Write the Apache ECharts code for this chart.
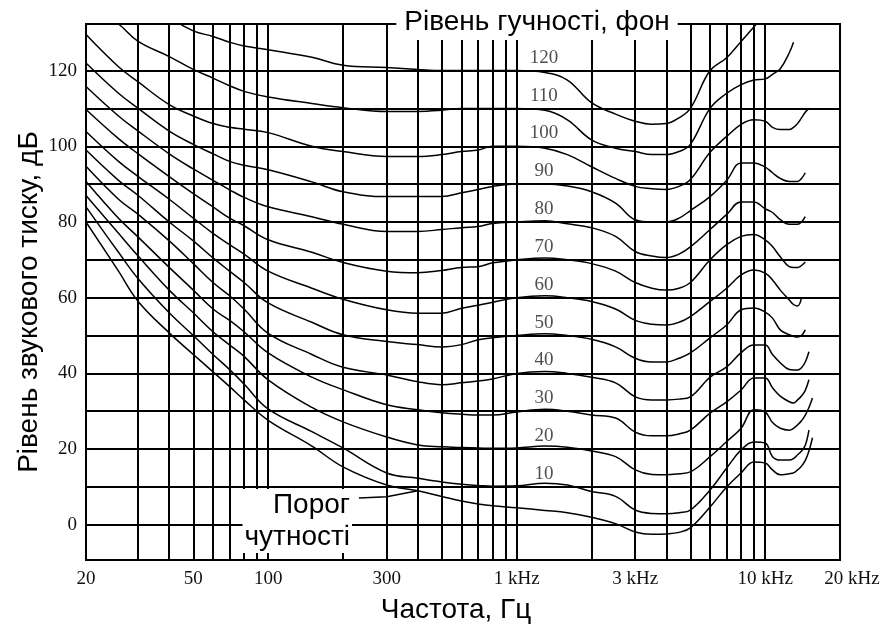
<!DOCTYPE html>
<html><head><meta charset="utf-8">
<script src="https://cdn.jsdelivr.net/npm/echarts@6/dist/echarts.min.js"></script>
<style>html,body{margin:0;padding:0;background:#fff}#c{width:886px;height:625px}</style>
</head><body><div id="c"></div>
<script>
// frequency nodes (Hz)
const freqs = [18.5, 25, 30, 40, 50, 60, 70, 80, 100, 150, 200, 300, 400, 500, 600, 700, 800, 1000, 1300, 1600, 2000, 2500, 3000, 3500, 4000, 4500, 5000, 6000, 7000, 8000, 9000, 10000, 10700, 11500, 12500, 13000, 13500, 14000, 14500, 15000, 15500];
// sound pressure level (dB) of each equal-loudness contour at the nodes above
const thr   = [80, 67, 59, 50.7, 45, 40.4, 36.5, 33, 27.6, 20.8, 15.3, 10.5, 9, 7.5, 6.3, 5.5, 5, 4.5, 3.8, 3.2, 2, 0.3, -1.9, -2.5, -2.4, -2, -0.8, 4.7, 10, 13.7, 16.6, 16.3, 14.5, 13.2, 13.5, 13.7, 14.5, 15.5, 17, 19.5, 23];
const ph10  = [84, 72, 65, 56, 50, 45, 41, 37.2, 30.6, 24.6, 20.3, 13.7, 12.3, 11.3, 10.7, 10.4, 10.2, 10.3, 11, 10.5, 8.8, 7.5, 3.9, 3, 2.9, 3.2, 3.9, 9.2, 15, 19.8, 21.9, 21.6, 18, 17.1, 17.1, 17.5, 18.5, 19.5, 21, 25, null];
const ph20  = [87, 77, 71, 62, 56, 51, 47.5, 44.5, 38.3, 31, 27.2, 23.2, 21.1, 20.6, 20.4, 20.3, 20.2, 20.3, 20.8, 20.5, 19.5, 18, 14.5, 13.3, 13.2, 13.5, 14, 18, 22, 25.5, 30.4, 29.8, 27, 25.5, 25, 25.5, 26.4, 27.5, 29, 31, 33.5];
const ph30  = [90.7, 81, 76, 68, 62, 57, 54, 51, 45.4, 39, 35.7, 31.7, 30.4, 29.6, 29.2, 29, 29, 29.8, 30.5, 30, 29, 28.2, 24.5, 23.5, 23.5, 24, 25, 29.5, 32.5, 35.6, 38.8, 38.8, 36.2, 34, 32.5, 32.2, 33, 34, 35.5, 38.3, null];
const ph40  = [94.7, 86, 82, 75, 69, 64, 60.5, 57, 50.6, 45, 41.6, 39.6, 37.8, 37, 37.5, 38, 38.5, 40, 40.5, 40, 39, 37.5, 33.8, 33, 33, 33.2, 33.8, 39, 41.7, 45.5, 47.5, 47.5, 45, 42.8, 41, 40.9, 40.9, 41.5, 43, 45.7, null];
const ph50  = [99, 91, 87, 80, 75, 70.5, 67, 64, 58.6, 53.5, 50.2, 48.4, 47.6, 47, 47.6, 48.9, 49.4, 50, 50.5, 50, 49, 47, 44, 43, 43, 44, 45.4, 49.4, 52.8, 56.8, 57.3, 56.2, 54.6, 51.5, 50.2, 49.8, 49.6, 50, 51.5, null, null];
const ph60  = [103.9, 96, 92, 86, 81, 77, 74, 71.5, 67, 62.5, 59.6, 56.8, 55.9, 55.9, 57.2, 58, 58.8, 60, 60.5, 60, 59, 57, 54, 53, 52.8, 53.5, 55, 59, 62.5, 66, 67.3, 66.5, 64.7, 62, 59.4, 58.2, 57.8, 60, null, null, null];
const ph70  = [109.7, 102, 98, 92, 87.5, 84, 81, 79, 75.3, 72, 69.3, 67, 66.6, 67.2, 68, 68.2, 69.2, 70, 70.5, 70, 69, 67, 64, 62.5, 62, 62.5, 64, 70, 74, 76.2, 76.7, 75.3, 73.5, 70.8, 68.2, 68, 68, 68.5, 69.4, null, null];
const ph80  = [115.8, 108, 104, 98, 94, 91, 88.5, 86.5, 84, 81.4, 79.4, 77.5, 77.5, 78, 78.5, 78.8, 79.6, 80, 80.3, 79.5, 78.5, 76.2, 72.2, 71, 70.6, 71.5, 73.4, 78, 82, 85.3, 85.3, 83.5, 82.5, 80.6, 79.4, 79.4, 79.4, 80, 81.4, null, null];
const ph90  = [122, 114, 110, 104, 100.5, 98, 96, 95, 93.8, 90.6, 88, 86.7, 86.7, 86.7, 87.7, 88.6, 89.4, 90, 90, 89.5, 88, 85, 80.6, 80, 80, 81, 83, 86.7, 91, 95.6, 95.6, 94.5, 93, 91.5, 90.7, 90.7, 90.7, 91.5, 93, null, null];
const ph100 = [129.5, 121, 117, 111, 108, 106, 105, 104.5, 103.6, 100, 98.6, 97.3, 97.3, 97.8, 98.6, 99, 100, 100, 99.5, 97.8, 94.6, 91.5, 89.4, 88.8, 88.6, 89.4, 91.2, 98.4, 102.6, 105.8, 107, 106.6, 105, 104.4, 104.4, 105, 106, 107.5, 109, 110, null];
const ph110 = [138, 132.3, 127.7, 123.7, 120.3, 118, 116, 114.5, 113, 111.3, 110.2, 109.2, 109.2, 109.5, 110, 110, 110, 110, 109.5, 107, 101.7, 99.5, 98.6, 97.8, 97.8, 98.6, 100.5, 110, 114, 116.3, 117.5, 117.8, 119, 120.5, 124.7, 127.5, null, null, null, null, null];
const ph120 = [null, null, null, 134, 130.5, 129, 127.5, 126.5, 125.5, 123.5, 121.4, 120.8, 120.3, 120, 120, 120, 120, 120, 119.5, 117.5, 111.5, 108.5, 106.6, 105.8, 106, 107.5, 110, 120, 123.4, 127.7, 131.5, 135, null, null, null, null, null, null, null, null, null];
const curves = [thr, ph10, ph20, ph30, ph40, ph50, ph60, ph70, ph80, ph90, ph100, ph110, ph120];
// loudness levels written beside the contours (phon)
const phonLabels = [120, 110, 100, 90, 80, 70, 60, 50, 40, 30, 20, 10];
// axes
const xGridLines = [30, 40, 50, 60, 70, 80, 90, 100, 200, 300, 400, 500, 600, 700, 800, 900, 1000, 2000, 3000, 4000, 5000, 6000, 7000, 8000, 9000, 10000, 20000];
const xTickLabels = [18.5, 50, 100, 300, 1000, 3000, 10000, 20000];
const xTickText = ['20', '50', '100', '300', '1 kHz', '3 kHz', '10 kHz', '20 kHz'];
const yGridLines = [0, 10, 20, 30, 40, 50, 60, 70, 80, 90, 100, 110, 120];
const yTickLabels = [0, 20, 40, 60, 80, 100, 120];
// leader line from the "threshold" caption to the threshold curve (null = end on the curve)
const leader = [[232, 7.1], [300, 7.4], [400, null]];

const SERIF = '"Liberation Serif", "Times New Roman", serif';
const SANS = '"Liberation Sans", Arial, sans-serif';

const chart = echarts.init(document.getElementById('c'), null, {renderer: 'canvas'});
const series = curves.map(function (c) {
  return {
    type: 'line', silent: true, smooth: 0.4, symbol: 'none', clip: true,
    lineStyle: {color: '#000', width: 1.5},
    data: freqs.map(function (f, i) { return [f, c[i]]; }),
    z: 3
  };
});
const leaderData = leader.map(function (p) {
  return [p[0], p[1] === null ? thr[freqs.indexOf(p[0])] : p[1]];
});
series.push({type: 'line', silent: true, symbol: 'none', lineStyle: {color: '#000', width: 1.5}, data: leaderData, z: 3});
series.push({
  type: 'scatter', silent: true, symbolSize: 0, z: 4,
  data: phonLabels.map(function (p) { return [1288, p + 3.4, p]; }),
  label: {show: true, position: 'inside', formatter: function (d) { return String(d.value[2]); },
    fontFamily: SERIF, fontSize: 19, color: '#222'}
});

chart.setOption({
  animation: false,
  backgroundColor: '#fff',
  grid: {left: 86, right: 46, top: 24, bottom: 65, show: true, borderColor: '#000', borderWidth: 2, backgroundColor: 'transparent'},
  xAxis: {
    type: 'log', logBase: 10, min: 18.5, max: 20000,
    axisLine: {show: false},
    axisTick: {show: false, customValues: xGridLines},
    splitLine: {show: true, lineStyle: {color: '#000', width: 2}},
    axisLabel: {
      customValues: xTickLabels, margin: 10, fontFamily: SERIF, fontSize: 19, color: '#111',
      formatter: function (v) {
        const i = xTickLabels.indexOf(v);
        const t = i >= 0 ? xTickText[i] : '';
        return v === 20000 ? '{r|' + t + '}' : t;
      },
      rich: {r: {padding: [0, 0, 0, 24], fontFamily: SERIF, fontSize: 19, color: '#111'}}
    }
  },
  yAxis: {
    type: 'value', min: -9.3, max: 132.3,
    axisLine: {show: false},
    axisTick: {show: false, customValues: yGridLines},
    splitLine: {show: true, lineStyle: {color: '#000', width: 2}},
    axisLabel: {customValues: yTickLabels, margin: 9, fontFamily: SERIF, fontSize: 19, color: '#111'}
  },
  graphic: [
    {type: 'text', x: 537, y: 22, z: 100, silent: true,
      style: {text: 'Рівень гучності, фон', font: '28px ' + SANS, fill: '#000', align: 'center', verticalAlign: 'middle',
        backgroundColor: '#fff', padding: [4, 8, 4, 8]}},
    {type: 'text', x: 352, y: 489, z: 100, silent: true,
      style: {text: 'Порог\nчутності', font: '28px ' + SANS, fill: '#000', align: 'right', verticalAlign: 'top',
        lineHeight: 32, backgroundColor: '#fff', padding: [0, 2, 0, 2]}},
    {type: 'text', x: 29, y: 302, z: 100, silent: true, rotation: Math.PI / 2,
      style: {text: 'Рівень звукового тиску, дБ', font: '28px ' + SANS, fill: '#000', align: 'center', verticalAlign: 'middle'}},
    {type: 'text', x: 456, y: 610, z: 100, silent: true,
      style: {text: 'Частота, Гц', font: '28px ' + SANS, fill: '#000', align: 'center', verticalAlign: 'middle'}}
  ],
  series: series
});
</script>
</body></html>
